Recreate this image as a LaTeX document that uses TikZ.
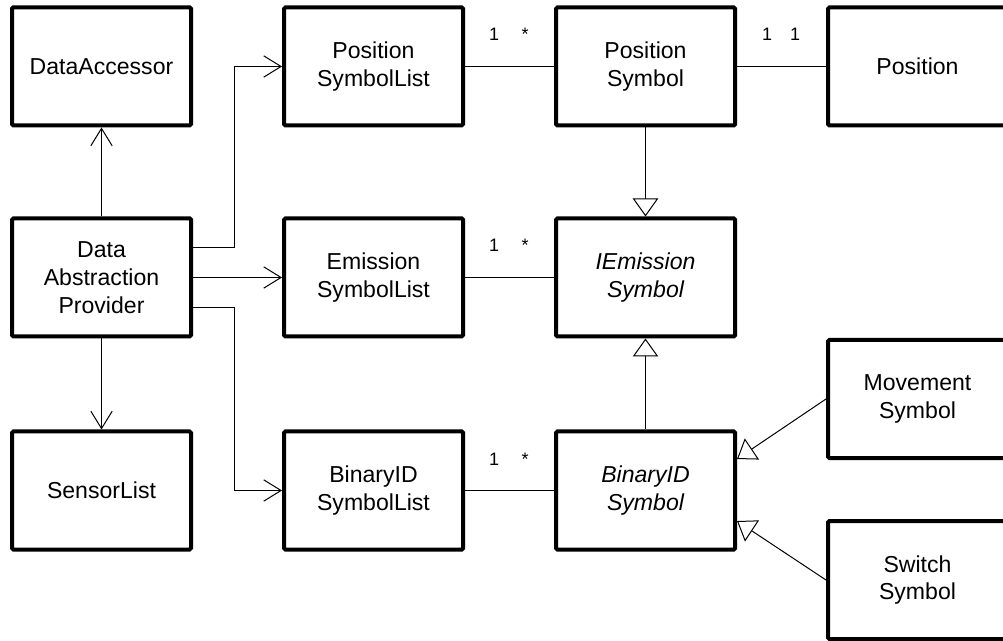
\documentclass[tikz,border=0pt]{standalone}
\usepackage{fontspec}
\setmainfont{Liberation Sans}
\usetikzlibrary{arrows.meta}
\begin{document}
\begin{tikzpicture}[x=0.75pt,y=-0.75pt,
  cls/.style={draw, line width=3pt, rounded corners=1pt, minimum width=134.25pt, minimum height=88.5pt, inner sep=0pt, align=center, fill=white, font=\fontsize{17.3pt}{20.8pt}\selectfont},
  abs/.style={cls, font=\fontsize{17.3pt}{20.8pt}\selectfont\itshape},
  conn/.style={line width=0.75pt},
  nav/.style={conn, -{Straight Barb[length=13pt,width=16pt,line width=0.75pt]}},
  gen/.style={conn, -{Triangle[open,length=13.5pt,width=19pt,line width=0.75pt,fill=white]}},
  mult/.style={font=\fontsize{13.5pt}{16pt}\selectfont, anchor=base, inner sep=0pt}]
\useasboundingbox (0,0) rectangle (1003,641);
\clip (0,0) rectangle (1003,641);
\fill[white] (0,0) rectangle (1003,641);
% classes
\node[cls] (acc) at (101.5,66.5) {DataAccessor};
\node[cls] (psl) at (373.5,66.5) {Position\\SymbolList};
\node[cls] (ps) at (645.5,66.5) {Position\\Symbol};
\node[cls] (pos) at (917.5,66.5) {Position};
\node[cls] (dap) at (101.5,277.5) {Data\\Abstraction\\Provider};
\node[cls] (esl) at (373.5,277.5) {Emission\\SymbolList};
\node[abs] (ies) at (645.5,277.5) {IEmission\\Symbol};
\node[cls] (mov) at (917.5,399) {Movement\\Symbol};
\node[cls] (sens) at (101.5,490.5) {SensorList};
\node[cls] (bsl) at (373.5,490.5) {BinaryID\\SymbolList};
\node[abs] (bid) at (645.5,490.5) {BinaryID\\Symbol};
\node[cls] (sw) at (917.5,580) {Switch\\Symbol};
% navigable associations from provider
\coordinate (ja) at (234,248);
\coordinate (jb) at (234,308);
\draw[nav] (dap.north) -- (acc.south);
\draw[nav] (dap.south) -- (sens.north);
\draw[nav] (dap.east |- ja) -- (ja) |- (psl.west);
\draw[nav] (dap.east) -- (esl.west);
\draw[nav] (dap.east |- jb) -- (jb) |- (bsl.west);
% associations
\draw[conn] (psl.east) -- (ps.west);
\draw[conn] (ps.east) -- (pos.west);
\draw[conn] (esl.east) -- (ies.west);
\draw[conn] (bsl.east) -- (bid.west);
% generalizations
\draw[gen] (ps.south) -- (ies.north);
\draw[gen] (bid.north) -- (ies.south);
\draw[gen] (mov.west) -- ([yshift=23.6pt]bid.east);
\draw[gen] (sw.west) -- ([yshift=-22.9pt]bid.east);
% multiplicities
\node[mult] (m1) at (494,41) {1};
\node[mult] (m2) at (525,41) {*};
\node[mult] (m3) at (767,41) {1};
\node[mult] (m4) at (795,41) {1};
\node[mult] (m5) at (494,252) {1};
\node[mult] (m6) at (525,252) {*};
\node[mult] (m7) at (494,465) {1};
\node[mult] (m8) at (525,465) {*};
\end{tikzpicture}
\end{document}
